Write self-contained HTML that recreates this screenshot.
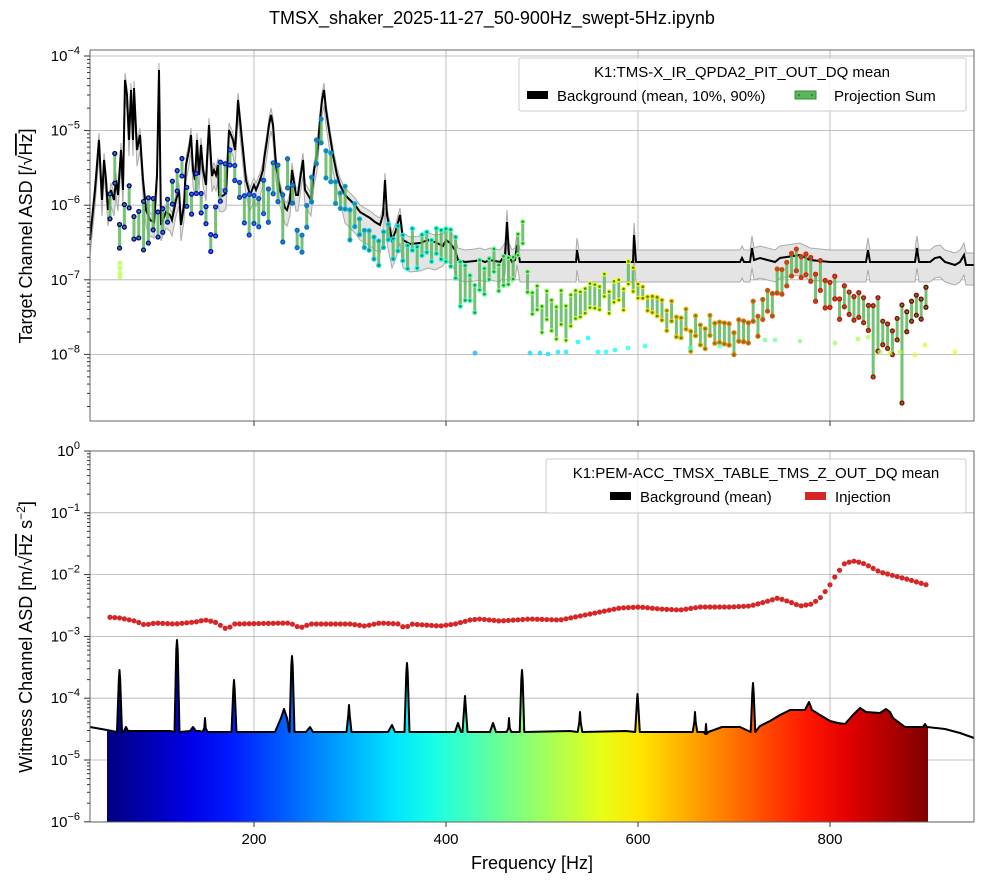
<!DOCTYPE html>
<html><head><meta charset="utf-8"><style>
html,body{margin:0;padding:0;background:#fff;}
svg{display:block;font-family:"Liberation Sans",sans-serif;}
</style></head><body>
<svg id="s" width="984" height="884" xmlns="http://www.w3.org/2000/svg"></svg>
<script>
const S=document.getElementById('s');let h='';
const X=f=>90+(f-29.2)*0.96;
function jet(t){t=Math.max(0,Math.min(1,t));const c=v=>Math.max(0,Math.min(1,v));const r=c(1.5-Math.abs(4*t-3)),g=c(1.5-Math.abs(4*t-2)),b=c(1.5-Math.abs(4*t-1));return `rgb(${r*255|0},${g*255|0},${b*255|0})`;}
function interp(pts,x){if(x<=pts[0][0])return pts[0].slice(1);for(let i=1;i<pts.length;i++){if(x<=pts[i][0]){const a=pts[i-1],b=pts[i],t=(x-a[0])/(b[0]-a[0]);return a.slice(1).map((v,k)=>v+(b[k+1]-v)*t);}}return pts[pts.length-1].slice(1);}
function topY(e){return 56+(-4-e)*74.6;}
function botY(e){return 451+(0-e)*61.8;}
h+='<g stroke="#b0b0b0" stroke-width="0.8">';
[254,446,638,830].forEach(x=>{h+=`<line x1="${x}" y1="50" x2="${x}" y2="421"/><line x1="${x}" y1="451" x2="${x}" y2="822"/>`;});
[-4,-5,-6,-7,-8].forEach(e=>{const y=topY(e);h+=`<line x1="90" y1="${y}" x2="974" y2="${y}"/>`;});
[0,-1,-2,-3,-4,-5,-6].forEach(e=>{const y=botY(e);h+=`<line x1="90" y1="${y}" x2="974" y2="${y}"/>`;});
h+='</g>';
const L=[[90,240],[95,190],[99,140],[102,200],[104,160],[106,180],[108,210],[111,190],[114,200],[116,180],[118,195],[121,150],[123,190],[125,80],[127,95],[129,140],[131,90],[133,140],[134,88],[137,150],[140,135],[143,180],[146,210],[150,220],[154,222],[157,175],[159,70],[161,225],[166,212],[170,215],[172,220],[176,200],[179,190],[181,225],[184,205],[186,165],[189,150],[191,135],[193,170],[195,180],[197,140],[199,175],[201,145],[203,170],[206,185],[207,160],[209,125],[211,160],[212,176],[214,170],[216,175],[218,165],[219,195],[222,196],[224,195],[226,193],[229,130],[233,140],[235,150],[237,120],[238,100],[240,120],[243,150],[246,180],[250,195],[254,185],[256,190],[258,185],[260,180],[263,170],[264,160],[267,140],[269,125],[271,115],[273,125],[276,165],[280,190],[283,200],[285,208],[287,210],[290,200],[292,170],[296,195],[298,195],[300,180],[303,160],[305,190],[308,195],[311,200],[314,170],[317,155],[320,120],[322,100],[324,90],[326,110],[329,130],[333,155],[337,175],[340,185],[345,195],[350,200],[355,205],[360,212],[365,215],[370,218],[375,222],[380,225],[383,215],[385,180],[387,215],[392,240],[396,230],[400,215],[403,240],[410,244],[420,243],[428,240],[435,242],[443,246],[446,240],[450,243],[455,250],[458,260],[465,262],[475,261],[480,260],[485,262],[490,260],[495,261],[500,262],[505,255],[507,222],[509,255],[512,262],[515,260],[517,245],[520,262],[540,262],[576,262],[577,250],[579,262],[600,262],[633,262],[634,235],[636,262],[700,262],[740,262],[742,258],[744,262],[750,262],[752,248],[754,260],[760,258],[775,262],[780,258],[800,255],[810,260],[830,262],[866,262],[868,250],[870,262],[915,262],[917,248],[919,262],[930,262],[935,258],[940,257],[945,262],[955,265],[960,262],[964,255],[966,265],[974,265]];
let up=[],lo=[];
L.forEach(([x,y])=>{const a=x<440?7:12,b=x<440?(x>340?28:16):20;up.push(`${x},${y-a}`);lo.unshift(`${x},${Math.min(y+b,300)}`);});
h+=`<polygon points="${up.join(' ')} ${lo.join(' ')}" fill="#e4e4e4" stroke="#aaa" stroke-width="1"/>`;
h+=`<polyline points="${L.map(p=>p.join(',')).join(' ')}" fill="none" stroke="#000" stroke-width="2"/>`;
const P=[[110,190,215],[115,160,190],[120,222,245],[130,188,210],[138,225,248],[145,190,245],[155,207,233],[165,210,233],[175,172,195],[180,158,175],[190,195,215],[200,175,195],[210,240,255],[220,170,210],[230,150,165],[240,185,200],[250,200,243],[255,194,218],[265,190,225],[275,160,190],[284,190,240],[290,150,165],[294,205,225],[300,250,265],[310,185,210],[320,117,140],[330,160,190],[340,190,205],[350,200,230],[360,220,235],[370,235,255],[380,240,265],[385,228,240],[400,233,260],[410,240,262],[430,235,255],[450,226,262],[460,255,300],[470,280,305],[480,270,300],[490,255,275],[505,260,290],[515,255,275],[521,210,232],[530,290,310],[550,300,330],[565,300,335],[580,290,315],[600,282,305],[620,285,305],[633,263,287],[640,290,300],[660,300,320],[680,315,335],[700,325,345],[715,320,340],[735,328,350],[750,315,335],[765,300,320],[780,270,295],[795,250,272],[805,255,275],[820,270,300],[840,290,310],[860,295,320],[870,305,330],[875,305,403],[880,302,325],[890,340,365],[900,300,320],[910,305,325],[920,295,315],[926,290,310]];
let bars='',dots='';
for(let f=50;f<=900;f+=5){const x=X(f);let [a,b]=interp(P,x);const n=Math.sin(f*1.7)*6+Math.sin(f*0.53)*5;a+=n;b+=n;if(Math.abs(x-X(875))<2){a=305;b=403;}
const c=jet((f-50)/850);
bars+=`<line x1="${x}" y1="${a}" x2="${x}" y2="${b}"/>`;
dots+=`<circle cx="${x}" cy="${a}" r="2.6" fill="${c}"/><circle cx="${x}" cy="${b}" r="2.6" fill="${c}"/><circle cx="${x}" cy="${a}" r="1.3" fill="#3a8a3a"/><circle cx="${x}" cy="${b}" r="1.3" fill="#3a8a3a"/>`;}
h+=`<g stroke="#5cb85c" stroke-width="3" opacity="0.85">${bars}</g>${dots}`;
[[475,353],[530,353],[540,353],[548,354],[558,352],[566,352],[578,342],[588,338],[598,352],[606,352],[615,350],[628,348],[645,346],[690,348],[720,346],[765,340],[775,340],[800,341],[835,343],[858,339],[868,337],[880,352],[890,353],[900,352],[915,355],[925,345],[955,352]].forEach(([x,y])=>{h+=`<circle cx="${x}" cy="${y}" r="2.4" fill="${jet(0.3+(x-475)/480*0.3)}" opacity="0.75"/>`;});
[263,268,273,277].forEach(y=>h+=`<circle cx="120" cy="${y}" r="2.5" fill="#b8ff50" opacity="0.8"/>`);
// bottom
function pk(x,y,w){return [[x-w-1,732],[x-0.7,y+10],[x,y],[x+0.7,y+10],[x+w+1,732]];}
let B=[[90,727],[107,730],[112,731]];
B=B.concat(pk(119.5,670,1.5),[[124,731],[126,727],[128,731]],[[170,731]],pk(177,640,1.5),[[190,731],[193,727],[196,731],[200,731]],pk(205,718,1.5),[[225,732]],pk(234,680,1.5),[[275,732],[281,718],[284,709],[287,718],[289,731]],pk(292,656,1.5),[[306,732],[310,727],[313,732],[346,732]],pk(349,705,1.5),[[388,732],[392,725],[395,732]],pk(407,663,1.5),[[455,732],[458,723],[461,732]],pk(465,696,1.5),[[490,732],[493,723],[496,732]],pk(509,718,1.3),pk(522,670,1.3),[[570,731]],pk(580,712,1.3),[[626,731]],pk(637.5,694,1.3),pk(695,712,1.3),pk(706,724,1.3),[[722,727],[740,727]],pk(753,683,1.3),[[760,726],[770,721],[780,715],[790,710],[805,710],[809,702],[812,710],[820,715],[830,721],[838,723],[845,724],[852,716],[860,708],[866,712],[880,713],[886,709],[890,712],[893,718],[905,727],[923,727],[925,724],[927,727],[945,729],[960,733],[974,738]]);
B=B.map(p=>[p[0],p[1]]);
const clip=B.filter(p=>p[0]>=107&&p[0]<=928);
h+=`<defs><linearGradient id="jg" x1="107" x2="928" gradientUnits="userSpaceOnUse">${Array.from({length:21},(_,i)=>`<stop offset="${i/20}" stop-color="${jet(i/20)}"/>`).join('')}</linearGradient></defs>`;
h+=`<polygon points="107,822 ${clip.map(p=>p.join(',')).join(' ')} 928,727 928,822" fill="url(#jg)"/>`;
h+=`<polyline points="${B.map(p=>p.join(',')).join(' ')}" fill="none" stroke="#000" stroke-width="2" stroke-linejoin="round"/>`;
const R=[[107,617],[120,618],[135,621],[145,625],[155,623],[175,624],[195,622],[205,620],[215,622],[228,630],[232,624],[290,623],[300,628],[310,624],[330,624],[350,624],[365,626],[380,623],[400,624],[405,629],[410,624],[440,626],[455,624],[470,620],[480,619],[500,621],[530,619],[560,620],[580,616],[600,612],[620,608],[640,607],[660,609],[680,610],[700,607],[730,607],[750,606],[765,602],[778,598],[790,602],[800,606],[812,604],[820,598],[828,588],[836,575],[845,563],[855,561],[865,564],[880,572],[895,576],[910,580],[927,585]];
for(let f=50;f<=900;f+=5){const x=X(f);const y=interp(R,x)[0];h+=`<circle cx="${x}" cy="${y}" r="2.6" fill="#d62728"/>`;}
h+='<rect x="90" y="50" width="884" height="371" fill="none" stroke="#666" stroke-width="1"/><rect x="90" y="451" width="884" height="371" fill="none" stroke="#666" stroke-width="1"/>';
h+='<g stroke="#333" stroke-width="1">';
[254,446,638,830].forEach(x=>{h+=`<line x1="${x}" y1="421" x2="${x}" y2="426"/><line x1="${x}" y1="822" x2="${x}" y2="827"/>`;});
for(let e=-9;e<=-4;e++){for(let m=1;m<10;m++){const y=topY(e+Math.log10(m));if(y<50||y>421)continue;h+=`<line x1="${m==1?84:87}" y1="${y}" x2="90" y2="${y}"/>`;}}
for(let e=-6;e<=0;e++){for(let m=1;m<10;m++){const y=botY(e+Math.log10(m));if(y<451||y>822)continue;h+=`<line x1="${m==1?84:87}" y1="${y}" x2="90" y2="${y}"/>`;}}
h+='</g>';
h+='<g font-size="15" fill="#000">';
[[254,'200'],[446,'400'],[638,'600'],[830,'800']].forEach(([x,t])=>h+=`<text x="${x}" y="844" text-anchor="middle">${t}</text>`);
[-4,-5,-6,-7,-8].forEach(e=>h+=`<text x="80" y="${topY(e)+5}" text-anchor="end">10<tspan dy="-7" font-size="11">−${-e}</tspan></text>`);
[0,-1,-2,-3,-4,-5,-6].forEach(e=>h+=`<text x="80" y="${botY(e)+5}" text-anchor="end">10<tspan dy="-7" font-size="11">${e<0?'−'+(-e):'0'}</tspan></text>`);
h+='</g>';
h+='<text x="492" y="24" font-size="18" text-anchor="middle">TMSX_shaker_2025-11-27_50-900Hz_swept-5Hz.ipynb</text>';
h+='<text x="532" y="869" font-size="18" text-anchor="middle">Frequency [Hz]</text>';
h+='<text transform="translate(32,236) rotate(-90)" font-size="18" text-anchor="middle">Target Channel ASD [/√<tspan text-decoration="overline">Hz</tspan>]</text>';
h+='<text transform="translate(32,637) rotate(-90)" font-size="18" text-anchor="middle">Witness Channel ASD [m/√<tspan text-decoration="overline">Hz</tspan> s<tspan dy="-7" font-size="12">−2</tspan><tspan dy="7">]</tspan></text>';
h+='<rect x="519" y="58" width="447" height="53" fill="#fff" fill-opacity="0.85" stroke="#ccc" rx="2"/>';
h+='<text x="742" y="77" font-size="15" text-anchor="middle">K1:TMS-X_IR_QPDA2_PIT_OUT_DQ mean</text>';
h+='<rect x="527" y="91" width="21" height="8" fill="#000"/><text x="557" y="101" font-size="15">Background (mean, 10%, 90%)</text>';
h+='<rect x="795" y="91" width="21" height="8" fill="#5cb85c" stroke="#3a8a3a"/><circle cx="799" cy="95" r="1.3" fill="#3a8a3a"/><circle cx="812" cy="95" r="1.3" fill="#3a8a3a"/><text x="834" y="101" font-size="15">Projection Sum</text>';
h+='<rect x="546" y="459" width="420" height="54" fill="#fff" fill-opacity="0.85" stroke="#ccc" rx="2"/>';
h+='<text x="756" y="478" font-size="15" text-anchor="middle">K1:PEM-ACC_TMSX_TABLE_TMS_Z_OUT_DQ mean</text>';
h+='<rect x="610" y="492" width="21" height="8" fill="#000"/><text x="640" y="502" font-size="15">Background (mean)</text>';
h+='<rect x="805" y="492" width="21" height="8" fill="#d62728"/><text x="835" y="502" font-size="15">Injection</text>';
S.innerHTML=h;
</script>
</body></html>
